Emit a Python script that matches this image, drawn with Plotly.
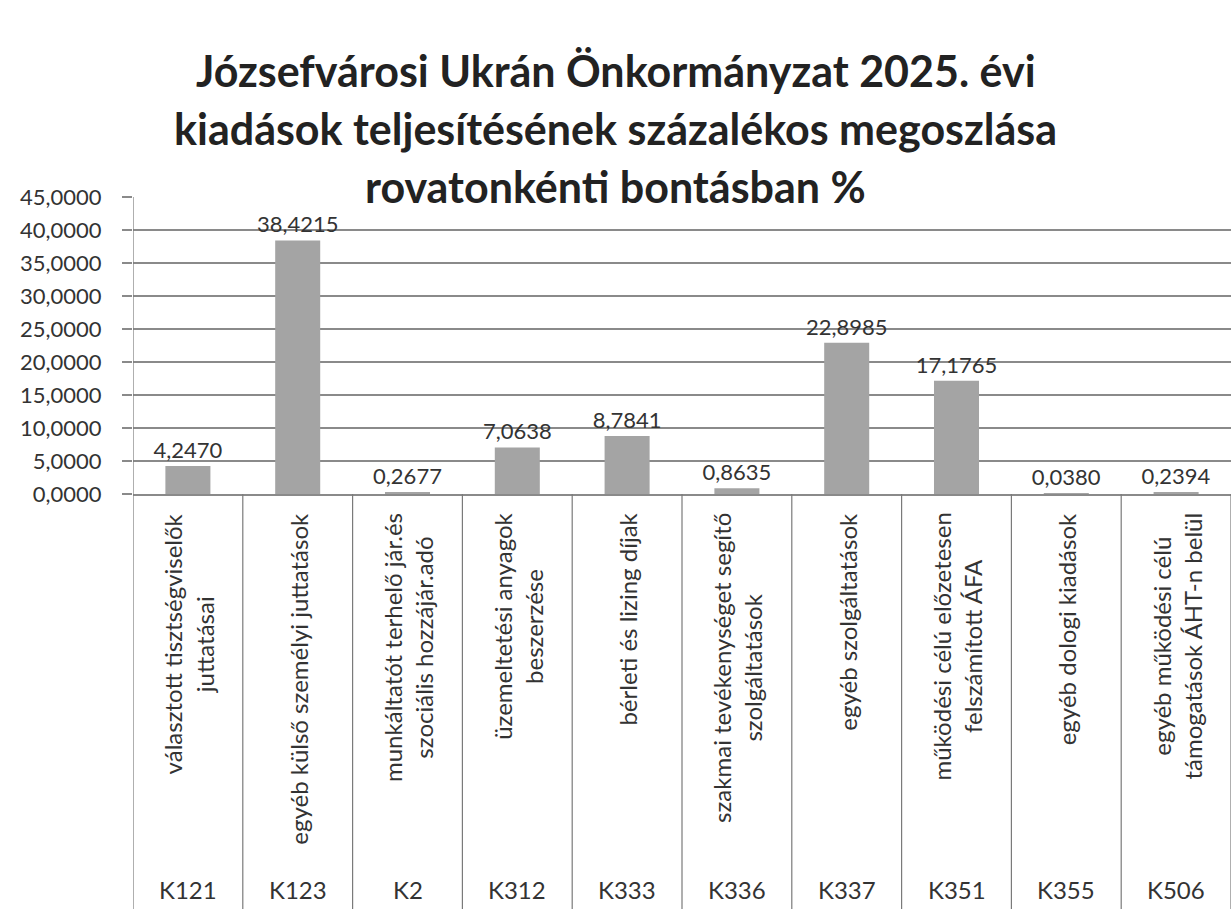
import plotly.graph_objects as go

codes = ["K121", "K123", "K2", "K312", "K333", "K336", "K337", "K351", "K355", "K506"]
names = [
    "választott tisztségviselők<br>juttatásai",
    "egyéb külső személyi juttatások",
    "munkáltatót terhelő jár.és<br>szociális hozzájár.adó",
    "üzemeltetési anyagok<br>beszerzése",
    "bérleti és lizing díjak",
    "szakmai tevékenységet segítő<br>szolgáltatások",
    "egyéb szolgáltatások",
    "működési célú előzetesen<br>felszámított ÁFA",
    "egyéb dologi kiadások",
    "egyéb működési célú<br>támogatások ÁHT-n belül",
]
values = [4.2470, 38.4215, 0.2677, 7.0638, 8.7841, 0.8635, 22.8985, 17.1765, 0.0380, 0.2394]
title_lines = [
    "Józsefvárosi Ukrán Önkormányzat 2025. évi",
    "kiadások teljesítésének százalékos megoszlása",
    "rovatonkénti bontásban %",
]
y_ticks = [0, 5, 10, 15, 20, 25, 30, 35, 40, 45]

W, H = 1231, 909
ML, MR, MT, MB = 133, 0, 197, 415
PLOT_W = W - ML - MR
PLOT_H = H - MT - MB
FONT = "Lato, Open Sans, sans-serif"
TXT = "#333333"
GRID = "#8a8a8a"

fig = go.Figure(go.Bar(
    x=list(range(len(codes))), y=values,
    marker=dict(color="#a4a4a4", line=dict(width=0)),
    text=values, texttemplate="%{y:.4f}", textposition="outside",
    textfont=dict(size=22, color=TXT, family=FONT), constraintext="none",
    cliponaxis=False, width=0.41,
))

annotations = []
bottom = -MB / PLOT_H
for i, (c, n) in enumerate(zip(codes, names)):
    annotations.append(dict(x=i, xref="x", y=-17 / PLOT_H, yref="paper", text=n,
                            textangle=-90, xanchor="center", yanchor="top", align="center",
                            showarrow=False, font=dict(size=24, color=TXT, family=FONT)))
    annotations.append(dict(x=i, xref="x", y=-396 / PLOT_H, yref="paper", text=c,
                            xanchor="center", yanchor="middle", showarrow=False,
                            font=dict(size=24, color=TXT, family=FONT)))
for k, t in enumerate(title_lines):
    annotations.append(dict(x=(W / 2 - ML) / PLOT_W, xref="paper", y=1 + (127 - 58 * k) / PLOT_H,
                            yref="paper", text="<b>%s</b>" % t, xanchor="center", yanchor="middle",
                            showarrow=False, font=dict(size=43, color="#222222", family=FONT)))

shapes = []
for i in range(len(codes) + 1):
    shapes.append(dict(type="line", xref="x", yref="paper", x0=i - 0.5, x1=i - 0.5,
                       y0=1 if i == 0 else 0, y1=bottom, line=dict(color="#7a7a7a", width=1.2)))

fig.update_layout(
    width=W, height=H, margin=dict(l=ML, r=MR, t=MT, b=MB),
    paper_bgcolor="white", plot_bgcolor="white", showlegend=False,
    separators=",.", bargap=0.59,
    font=dict(family=FONT, color=TXT),
    xaxis=dict(range=[-0.5, 9.5], showticklabels=False, showgrid=False, zeroline=False,
               showline=True, linecolor=GRID, linewidth=1.5, ticks=""),
    yaxis=dict(range=[0, 45], tickvals=y_ticks, tickformat=".4f", showgrid=True,
               gridcolor=GRID, gridwidth=1.5, zeroline=False, showline=False,
               ticks="outside", ticklen=10, tickcolor=GRID, tickwidth=1.5,
               ticklabelstandoff=16,
               tickfont=dict(size=22, color=TXT, family=FONT)),
    annotations=annotations, shapes=shapes,
)
fig.write_html("out.html", config={"displayModeBar": False},
               post_script="document.body.style.margin='0';")
